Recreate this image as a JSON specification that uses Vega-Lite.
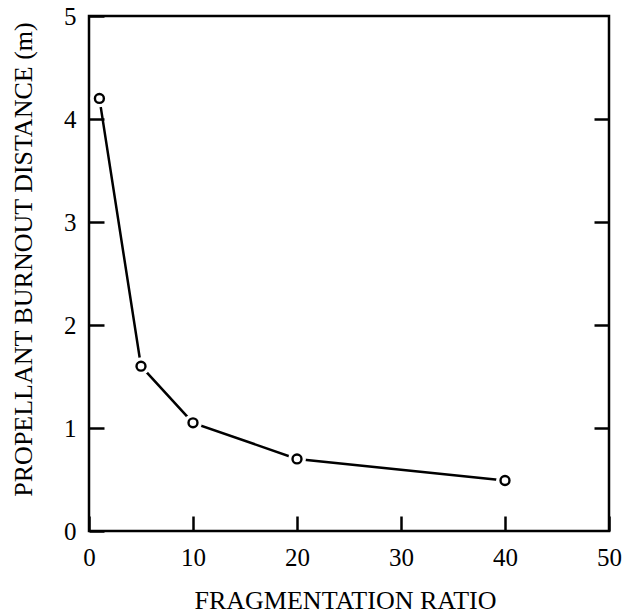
{
  "$schema": "https://vega.github.io/schema/vega-lite/v6.json",
  "width": 520,
  "height": 515,
  "autosize": "none",
  "padding": {"left": 89, "top": 16, "right": 15, "bottom": 83},
  "config": {
    "view": {"stroke": "black", "strokeWidth": 2.5},
    "font": "Liberation Serif",
    "axis": {
      "domain": false,
      "grid": false,
      "tickColor": "black",
      "tickWidth": 2.5,
      "tickSize": -15,
      "labelFont": "Liberation Serif",
      "labelFontSize": 25,
      "labelColor": "black",
      "labelFlush": false,
      "titleFont": "Liberation Serif",
      "titleFontSize": 26,
      "titleFontWeight": "normal",
      "titleColor": "black"
    }
  },
  "data": {
    "values": [
      {"ratio": 1, "distance": 4.2},
      {"ratio": 5, "distance": 1.6},
      {"ratio": 10, "distance": 1.05},
      {"ratio": 20, "distance": 0.7},
      {"ratio": 40, "distance": 0.49}
    ]
  },
  "encoding": {
    "x": {
      "field": "ratio",
      "type": "quantitative",
      "scale": {"domain": [0, 50], "nice": false},
      "axis": {
        "title": "FRAGMENTATION RATIO",
        "values": [0, 10, 20, 30, 40, 50],
        "labelPadding": 29,
        "titleX": 256,
        "titleY": 77,
        "titleBaseline": "alphabetic"
      }
    }
  },
  "layer": [
    {
      "mark": {"type": "line", "color": "black", "strokeWidth": 2.5},
      "encoding": {
        "y": {
          "field": "distance",
          "type": "quantitative",
          "scale": {"domain": [0, 5], "nice": false},
          "axis": {
            "title": "PROPELLANT BURNOUT DISTANCE (m)",
            "values": [0, 1, 2, 3, 4, 5],
            "labelPadding": 28,
            "titleX": -58,
            "titleY": 243,
            "titleAngle": 270,
            "titleAlign": "center",
            "titleBaseline": "alphabetic"
          }
        }
      }
    },
    {
      "mark": {"type": "point", "shape": "circle", "filled": true, "color": "white", "opacity": 1, "size": 320},
      "encoding": {
        "y": {"field": "distance", "type": "quantitative", "scale": {"domain": [0, 5], "nice": false}, "axis": null}
      }
    },
    {
      "mark": {"type": "point", "shape": "circle", "filled": false, "color": "black", "opacity": 1, "strokeWidth": 2.4, "size": 80},
      "encoding": {
        "y": {
          "field": "distance",
          "type": "quantitative",
          "scale": {"domain": [0, 5], "nice": false},
          "axis": {"orient": "right", "title": null, "labels": false, "values": [1, 2, 3, 4]}
        }
      }
    }
  ],
  "resolve": {"axis": {"y": "independent"}}
}
